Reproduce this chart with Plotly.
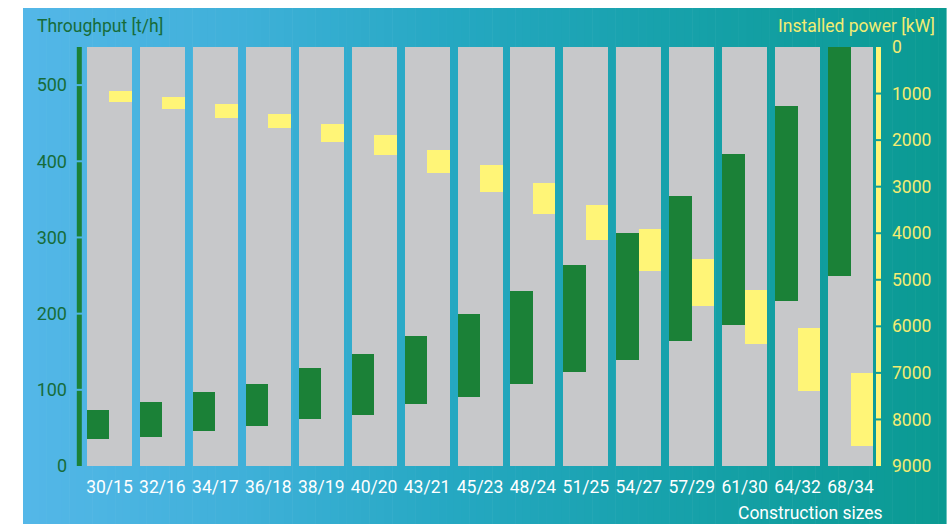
import numpy as np
import plotly.graph_objects as go

# ---------------- data ----------------
sizes = ["30/15", "32/16", "34/17", "36/18", "38/19", "40/20", "43/21", "45/23",
         "48/24", "51/25", "54/27", "57/29", "61/30", "64/32", "68/34"]
throughput_min = [35, 38, 46, 53, 62, 67, 82, 91, 108, 124, 139, 164, 185, 216, 250]
throughput_max = [74, 84, 97, 108, 129, 147, 170, 199, 230, 264, 306, 355, 410, 472, 550]
power_min = [950, 1080, 1230, 1440, 1660, 1890, 2210, 2540, 2920, 3390, 3910, 4550, 5230, 6030, 7010]
power_max = [1180, 1330, 1520, 1740, 2040, 2320, 2700, 3110, 3580, 4140, 4810, 5560, 6390, 7390, 8570]

throughput_ticks = [0, 100, 200, 300, 400, 500]
power_ticks = [0, 1000, 2000, 3000, 4000, 5000, 6000, 7000, 8000, 9000]
throughput_range = [0, 550]
power_range = [9000, 0]

# ---------------- style ----------------
FONT = "Roboto"
GRAY = "#c7c8ca"
GREEN = "#1b8137"
YELLOW = "#fff577"
TXT_GREEN = "#176c3a"
TXT_YELLOW = "#f3ec72"

W, H = 950, 524
ML, MR, MT, MB = 83, 73, 47, 58
PW, PH = W - ML - MR, H - MT - MB

def px_to_paper_x(px):
    return (px - ML) / PW

def px_to_paper_y(py):
    return (H - MB - py) / PH

fig = go.Figure()

# background columns
fig.add_trace(go.Bar(
    x=sizes, y=[throughput_range[1]] * len(sizes), base=0,
    width=0.85, marker=dict(color=GRAY, line=dict(width=0)),
    hoverinfo="skip", showlegend=False, yaxis="y"))

# throughput ranges (green, left half)
fig.add_trace(go.Bar(
    x=sizes, y=[hi - lo for lo, hi in zip(throughput_min, throughput_max)],
    base=throughput_min, width=0.425, offset=-0.425,
    marker=dict(color=GREEN, line=dict(width=0)),
    name="Throughput", showlegend=False, yaxis="y"))

# installed power ranges (yellow, right half)
fig.add_trace(go.Bar(
    x=sizes, y=[hi - lo for lo, hi in zip(power_min, power_max)],
    base=power_min, width=0.425, offset=0,
    marker=dict(color=YELLOW, line=dict(width=0)),
    name="Installed power", showlegend=False, yaxis="y2"))

shapes = []
# gradient panel
stops_px = [23, 250, 450, 650, 946]
stops_rgb = np.array([[84, 183, 232], [62, 176, 216], [37, 168, 194], [24, 162, 173], [10, 154, 146]])
n = 120
edges = np.linspace(23, 946, n + 1)
for i in range(n):
    c = (edges[i] + edges[i + 1]) / 2
    rgb = [int(round(np.interp(c, stops_px, stops_rgb[:, k]))) for k in range(3)]
    shapes.append(dict(type="rect", xref="paper", yref="paper", layer="below",
                       x0=px_to_paper_x(edges[i]), x1=px_to_paper_x(edges[i + 1] + 0.6),
                       y0=px_to_paper_y(524), y1=px_to_paper_y(8),
                       fillcolor="rgb(%d,%d,%d)" % tuple(rgb), line=dict(width=0)))

# left axis line (segmented at ticks)
gl = 1.0 / (PH / (throughput_range[1] - throughput_range[0]))
bounds = throughput_ticks + [throughput_range[1]]
for a, b in zip(bounds[:-1], bounds[1:]):
    y0 = a + gl if a > throughput_range[0] else a
    y1 = b - gl if b in throughput_ticks else b
    shapes.append(dict(type="line", xref="paper", yref="y", layer="above",
                       x0=px_to_paper_x(79.3), x1=px_to_paper_x(79.3), y0=y0, y1=y1,
                       line=dict(color=GREEN, width=5)))

# right axis line (segmented at ticks)
gr = 1.0 / (PH / 9000)
for a, b in zip(power_ticks[:-1], power_ticks[1:]):
    y0 = a + gr if a > 0 else a
    y1 = b - gr if b < 9000 else b
    shapes.append(dict(type="line", xref="paper", yref="y2", layer="above",
                       x0=px_to_paper_x(878.5), x1=px_to_paper_x(878.5), y0=y0, y1=y1,
                       line=dict(color=YELLOW, width=5)))

annotations = [
    dict(text="Throughput [t/h]", xref="paper", yref="paper",
         x=px_to_paper_x(35), y=px_to_paper_y(26), xanchor="left", yanchor="middle",
         showarrow=False, font=dict(family=FONT, size=17.5, color=TXT_GREEN)),
    dict(text="Installed power [kW]", xref="paper", yref="paper",
         x=px_to_paper_x(937), y=px_to_paper_y(26), xanchor="right", yanchor="middle",
         showarrow=False, font=dict(family=FONT, size=17.5, color=TXT_YELLOW)),
    dict(text="Construction sizes", xref="paper", yref="paper",
         x=px_to_paper_x(885), y=px_to_paper_y(513), xanchor="right", yanchor="middle",
         showarrow=False, font=dict(family=FONT, size=17.5, color="white")),
]

fig.update_layout(
    width=W, height=H,
    margin=dict(l=ML, r=MR, t=MT, b=MB, pad=0),
    paper_bgcolor="white", plot_bgcolor="rgba(0,0,0,0)",
    barmode="overlay", bargap=0,
    showlegend=False,
    shapes=shapes, annotations=annotations,
    xaxis=dict(type="category", range=[-0.5, len(sizes) - 0.5], showgrid=False,
               showline=False, zeroline=False, ticks="", ticklabelstandoff=8,
               tickfont=dict(family=FONT, size=17.5, color="white")),
    yaxis=dict(range=throughput_range, tickvals=throughput_ticks, showgrid=False,
               showline=False, zeroline=False, ticks="", ticklabelstandoff=15,
               tickfont=dict(family=FONT, size=18, color=TXT_GREEN)),
    yaxis2=dict(range=power_range, tickvals=power_ticks, overlaying="y", side="right",
                showgrid=False, showline=False, zeroline=False, ticks="",
                ticklabelstandoff=14,
                tickfont=dict(family=FONT, size=17.5, color=TXT_YELLOW)),
)

fig.write_html("out.html")
